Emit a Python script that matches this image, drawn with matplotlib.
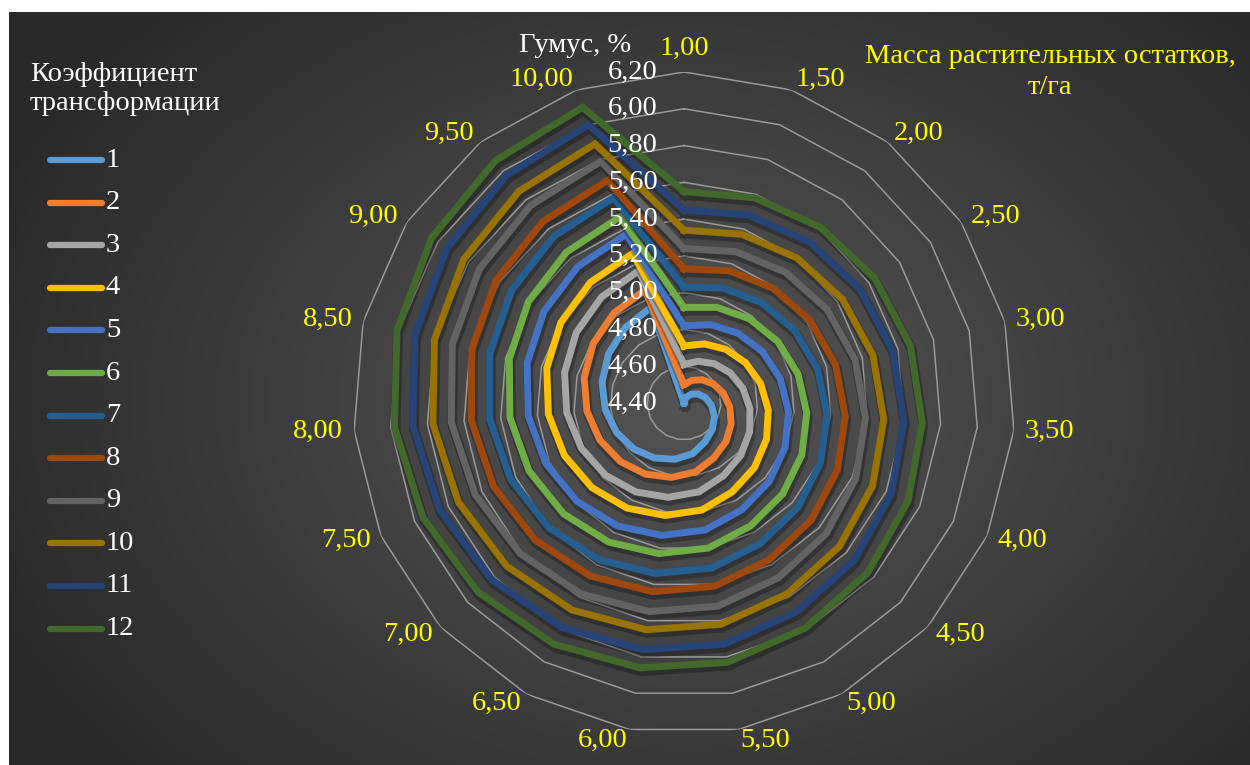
import numpy as np
import matplotlib
matplotlib.use("Agg")
import matplotlib.pyplot as plt
import matplotlib.patheffects as pe

plt.rcParams['font.family'] = ['Liberation Serif', 'DejaVu Serif']

# масса растительных остатков, т/га
masses = ["1,00", "1,50", "2,00", "2,50", "3,00", "3,50", "4,00", "4,50", "5,00", "5,50",
          "6,00", "6,50", "7,00", "7,50", "8,00", "8,50", "9,00", "9,50", "10,00"]

# гумус, % для коэффициентов трансформации 1..12
h1 = [4.40, 4.43, 4.46, 4.49, 4.52, 4.55, 4.58, 4.61, 4.64, 4.68, 4.71, 4.74, 4.77, 4.80, 4.83, 4.86, 4.89, 4.92, 4.95]
h2 = [4.50, 4.53, 4.56, 4.59, 4.62, 4.65, 4.68, 4.71, 4.74, 4.78, 4.81, 4.84, 4.87, 4.90, 4.93, 4.96, 4.99, 5.02, 5.05]
h3 = [4.61, 4.64, 4.67, 4.70, 4.73, 4.76, 4.79, 4.82, 4.85, 4.89, 4.92, 4.95, 4.98, 5.01, 5.04, 5.07, 5.10, 5.13, 5.16]
h4 = [4.71, 4.74, 4.77, 4.80, 4.83, 4.86, 4.89, 4.92, 4.95, 4.99, 5.02, 5.05, 5.08, 5.11, 5.14, 5.17, 5.20, 5.23, 5.26]
h5 = [4.82, 4.85, 4.88, 4.91, 4.94, 4.97, 5.00, 5.03, 5.06, 5.10, 5.13, 5.16, 5.19, 5.22, 5.25, 5.28, 5.31, 5.34, 5.37]
h6 = [4.92, 4.95, 4.98, 5.01, 5.04, 5.07, 5.10, 5.13, 5.16, 5.20, 5.23, 5.26, 5.29, 5.32, 5.35, 5.38, 5.41, 5.44, 5.47]
h7 = [5.03, 5.06, 5.09, 5.12, 5.15, 5.18, 5.21, 5.24, 5.27, 5.31, 5.34, 5.37, 5.40, 5.43, 5.46, 5.49, 5.52, 5.55, 5.58]
h8 = [5.13, 5.16, 5.19, 5.22, 5.25, 5.28, 5.31, 5.34, 5.37, 5.41, 5.44, 5.47, 5.50, 5.53, 5.56, 5.59, 5.62, 5.65, 5.68]
h9 = [5.24, 5.27, 5.30, 5.33, 5.36, 5.39, 5.42, 5.45, 5.48, 5.52, 5.55, 5.58, 5.61, 5.64, 5.67, 5.70, 5.73, 5.76, 5.79]
h10 = [5.34, 5.37, 5.40, 5.43, 5.46, 5.49, 5.52, 5.55, 5.58, 5.62, 5.65, 5.68, 5.71, 5.74, 5.77, 5.80, 5.83, 5.86, 5.89]
h11 = [5.45, 5.48, 5.51, 5.54, 5.57, 5.60, 5.63, 5.66, 5.69, 5.73, 5.76, 5.79, 5.82, 5.85, 5.88, 5.91, 5.94, 5.97, 6.00]
h12 = [5.55, 5.58, 5.61, 5.64, 5.67, 5.70, 5.73, 5.76, 5.79, 5.83, 5.86, 5.89, 5.92, 5.95, 5.98, 6.01, 6.04, 6.07, 6.10]

coefs = ["1", "2", "3", "4", "5", "6", "7", "8", "9", "10", "11", "12"]
series = [h1, h2, h3, h4, h5, h6, h7, h8, h9, h10, h11, h12]
colors = ["#5B9BD5", "#ED7D31", "#A5A5A5", "#FFC000", "#4472C4", "#70AD47",
          "#255E91", "#9E480E", "#636363", "#997300", "#264478", "#43682B"]

r_ticks = [4.40, 4.60, 4.80, 5.00, 5.20, 5.40, 5.60, 5.80, 6.00, 6.20]
r_min, r_max = 4.40, 6.20

W, H = 1250, 765
fig = plt.figure(figsize=(W / 100, H / 100), dpi=100, facecolor="white")

# dark radial gradient background
bg = fig.add_axes([0, 0, 1, 1])
bg.set_xlim(0, W)
bg.set_ylim(H, 0)
bg.axis("off")
yy, xx = np.mgrid[12:H, 9:W]
d = np.sqrt(((xx - 690) / 760.0) ** 2 + ((yy - 400) / 560.0) ** 2)
shade = 0x53 - (0x53 - 0x29) * np.clip(d, 0, 1) ** 1.1
img = np.dstack([shade, shade, shade]) / 255.0
bg.imshow(img, extent=(9, W, H, 12), aspect="auto", interpolation="bilinear")

# radar plot
cx, cy, R = 684, 403, 331
ax = fig.add_axes([(cx - R) / W, (H - cy - R) / H, 2 * R / W, 2 * R / H],
                  projection="polar")
ax.set_theta_zero_location("N")
ax.set_theta_direction(-1)
ax.set_ylim(r_min, r_max)
ax.axis("off")
ax.patch.set_alpha(0)

n = len(masses)
theta = np.linspace(0, 2 * np.pi, n, endpoint=False)
theta_c = np.append(theta, theta[0])

for v in r_ticks[1:]:
    ax.plot(theta_c, [v] * (n + 1), color="#999999", lw=1.1, zorder=1)

shadow = [pe.SimpleLineShadow(offset=(0.8, -2.4), shadow_color="black", alpha=0.28,
                              linewidth=7),
          pe.Normal()]
for vals, col in zip(series, colors):
    ax.plot(theta_c, vals + vals[:1], color=col, lw=5, solid_joinstyle="miter",
            zorder=3, path_effects=shadow)

fs = 20.5
for v in r_ticks:
    ax.annotate(f"{v:.2f}".replace(".", ","), xy=(0, v), xytext=(-19, 0),
                textcoords="offset points", ha="right", va="center",
                color="white", fontsize=fs, zorder=5, annotation_clip=False)

# category labels: anchored just outside the outer ring
off = (342 - R) / 1.389
for t, lab in zip(theta, masses):
    s, c = np.sin(t), np.cos(t)
    if abs(s) < 0.01:
        ha, va = "center", ("bottom" if c > 0 else "top")
    else:
        ha, va = ("left" if s > 0 else "right"), "center"
    ax.annotate(lab, xy=(t, r_max), xytext=(off * s, off * c),
                textcoords="offset points", ha=ha, va=va,
                color="#FFFF00", fontsize=fs, annotation_clip=False)

fig.text(631 / W, 1 - 45 / H, "Гумус, %", ha="right", va="center",
         color="white", fontsize=fs)
fig.text(1050 / W, 1 - 72 / H, "Масса растительных остатков,\nт/га", ha="center",
         va="center", color="#FFFF00", fontsize=fs, linespacing=1.35)

# legend
bg.text(30, 89, "Коэффициент\nтрансформации", ha="left", va="center",
        color="white", fontsize=fs, linespacing=1.25)
for i, (lab, col) in enumerate(zip(coefs, colors)):
    y = 160 + i * 42.6
    bg.plot([50, 102], [y, y], color=col, lw=4.5, solid_capstyle="round")
    bg.text(106, y, lab, ha="left", va="center", color="white", fontsize=fs)

fig.savefig("out.png", dpi=100, facecolor=fig.get_facecolor())
